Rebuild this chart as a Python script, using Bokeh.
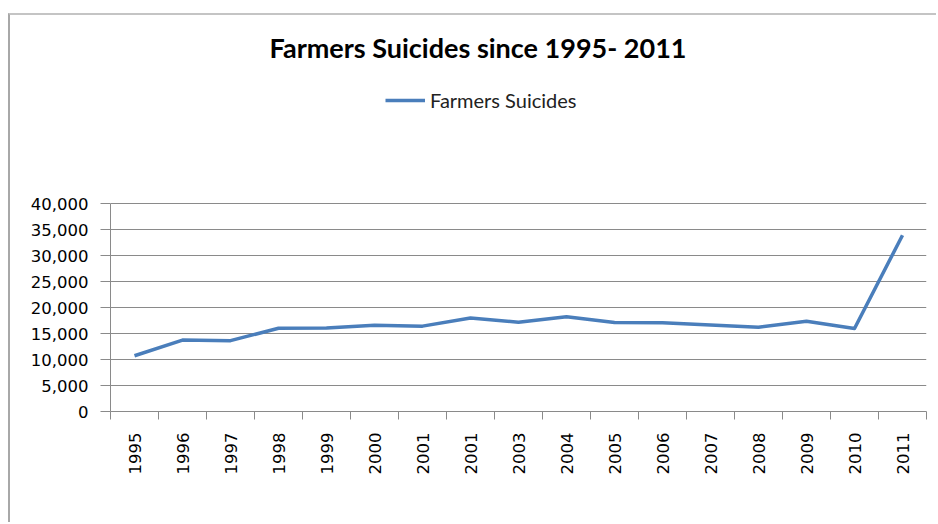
import math
from bokeh.plotting import figure
from bokeh.models import (Range1d, FixedTicker, NumeralTickFormatter, Label,
                          Legend, LegendItem, ColumnDataSource)
from bokeh.embed import file_html
from bokeh.resources import INLINE

# ---- data ----
year_labels = ["1995", "1996", "1997", "1998", "1999", "2000", "2001", "2001",
               "2003", "2004", "2005", "2006", "2007", "2008", "2009", "2010", "2011"]
suicides = [10720, 13730, 13620, 16015, 16080, 16600, 16415, 17970,
            17160, 18240, 17130, 17060, 16630, 16200, 17370, 15960, 33900]
y_ticks = [0, 5000, 10000, 15000, 20000, 25000, 30000, 35000, 40000]
title_text = "Farmers Suicides since 1995- 2011"
series_name = "Farmers Suicides"

xs = list(range(len(year_labels)))
src = ColumnDataSource(dict(x=xs, y=suicides))

GRAY = "#8a8a8a"

# plot frame spans from the top of the canvas down to the x axis; the value
# axis only covers its lower 208 px (0..40,000), the rest holds title & legend
FRAME_H = 396
AXIS_H = 208
y_top = max(y_ticks) * FRAME_H / AXIS_H

p = figure(width=928, height=509, output_backend="svg", toolbar_location=None,
           x_range=Range1d(-0.5, len(year_labels) - 0.5), y_range=Range1d(0, y_top),
           min_border_left=100, min_border_right=12, min_border_top=0,
           min_border_bottom=113)
p.margin = (13, 0, 0, 8)
p.styles = {"border-left": "2px solid #a8a8a8", "border-top": "2px solid #c4c4c4"}
p.outline_line_color = None
p.background_fill_color = "white"
p.border_fill_color = "white"

r = p.line("x", "y", source=src, line_width=3.5, line_color="#4a7ebb",
           line_join="round")

# x axis
xa = p.xaxis[0]
xa.ticker = FixedTicker(ticks=xs, minor_ticks=[i - 0.5 for i in range(len(year_labels) + 1)])
xa.major_label_overrides = {i: lab for i, lab in enumerate(year_labels)}
xa.major_label_orientation = math.pi / 2
xa.major_tick_out = 0
xa.major_tick_in = 0
xa.minor_tick_out = 8
xa.minor_tick_in = 0
xa.minor_tick_line_color = GRAY
xa.axis_line_color = GRAY
xa.major_label_standoff = 13
xa.major_label_text_font = "DejaVu Sans"
xa.major_label_text_font_size = "16.5px"
xa.major_label_text_color = "black"

# y axis
ya = p.yaxis[0]
ya.ticker = FixedTicker(ticks=y_ticks, minor_ticks=[])
ya.formatter = NumeralTickFormatter(format="0,0")
ya.bounds = (0, max(y_ticks))
ya.major_tick_out = 10
ya.major_tick_in = 0
ya.major_tick_line_color = GRAY
ya.axis_line_color = GRAY
ya.major_label_standoff = 12
ya.major_label_text_font = "DejaVu Sans"
ya.major_label_text_font_size = "16.5px"
ya.major_label_text_color = "black"

p.xgrid.visible = False
p.ygrid.ticker = FixedTicker(ticks=y_ticks)
p.ygrid.grid_line_color = GRAY
p.ygrid.grid_line_width = 1

# title
p.add_layout(Label(x=367.5, y=364, x_units="screen", y_units="screen",
                   text=title_text, text_align="center", text_baseline="middle",
                   text_font="Lato", text_font_style="bold", text_font_size="27px",
                   text_color="black"))

# legend
leg = Legend(items=[LegendItem(label=series_name, renderers=[r])],
             location=(275, 299), orientation="horizontal",
             padding=0, margin=0, spacing=0, label_standoff=5,
             glyph_width=40, glyph_height=20, label_height=20,
             label_text_font="Lato", label_text_font_size="20px",
             label_text_color="#222222",
             border_line_color=None, background_fill_alpha=0)
p.add_layout(leg)

open("out.html", "w").write(file_html(p, INLINE))
